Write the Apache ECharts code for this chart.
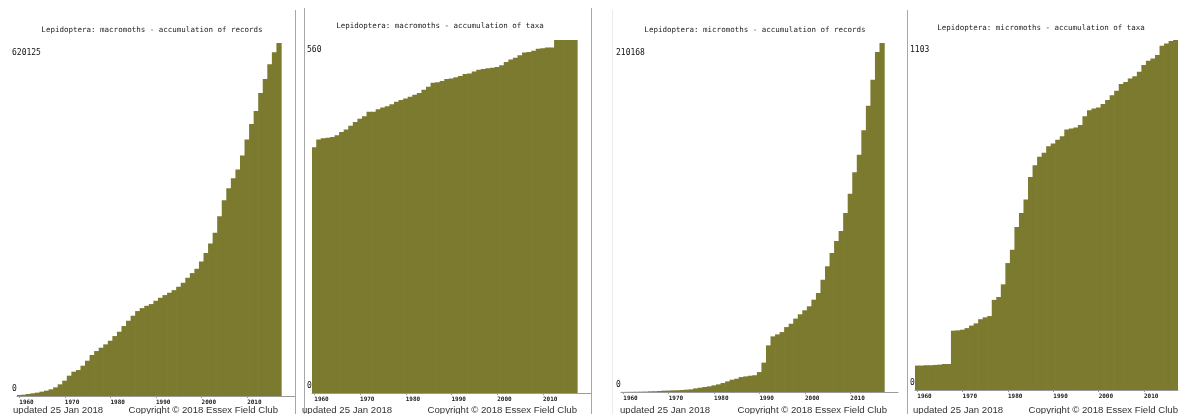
<!DOCTYPE html>
<html>
<head>
<meta charset="utf-8">
<script src="https://cdn.jsdelivr.net/npm/echarts@6/dist/echarts.min.js"></script>
<style>
  html, body { margin: 0; padding: 0; background: #ffffff; }
  #chart { width: 1179px; height: 414px; }
</style>
</head>
<body>
<div id="chart"></div>
<script>
// Year categories on each x axis (axis runs a little past the last recorded year)
const years = ['1960','1961','1962','1963','1964','1965','1966','1967','1968','1969',
  '1970','1971','1972','1973','1974','1975','1976','1977','1978','1979',
  '1980','1981','1982','1983','1984','1985','1986','1987','1988','1989',
  '1990','1991','1992','1993','1994','1995','1996','1997','1998','1999',
  '2000','2001','2002','2003','2004','2005','2006','2007','2008','2009',
  '2010','2011','2012','2013','2014','2015','2016','2017','2018','2019','2020'];
const tickYears = ['1960','1970','1980','1990','2000','2010'];

// Cumulative totals, 1960 to 2017
const macroRecords = [1800,2300,3500,4700,5900,7600,9400,11700,15200,20500,
  26900,35700,42700,45600,53200,62000,72000,79000,84800,90700,
  97100,105300,112900,122900,132200,141000,149200,154400,158500,161500,
  167300,172600,177300,181400,186000,191900,198900,207700,215900,223500,
  236300,251000,267900,286700,315900,344000,365100,382600,397800,422400,
  450500,478000,500800,532400,556900,582700,603700,620125];

const macroTaxa = [390,402,404,405,406,409,414,418,424,430,
  435,439,446,446,450,453,455,458,462,465,
  467,470,473,476,481,486,492,493,495,498,
  499,501,503,506,507,510,513,514,515,516,
  517,520,525,529,532,536,540,541,543,546,
  547,548,548,560,560,560,560,560];

const microRecords = [50,80,120,150,200,250,400,450,600,800,
  850,1000,1050,1200,1400,1600,2200,2600,3000,3400,
  4000,4600,5400,6400,7400,8000,9000,9400,9800,10100,
  12000,17700,28100,33500,34700,36100,39100,41100,44200,46800,
  49200,51600,55600,59600,67600,75700,83700,90900,97000,107800,
  119400,132300,142900,157600,172400,188100,204700,210168];

const microTaxa = [77,77,78,78,79,80,82,82,187,188,
  190,195,203,210,223,229,233,284,293,333,
  400,442,514,558,600,671,708,735,748,768,
  777,789,800,821,824,827,835,863,882,887,
  890,901,914,929,943,964,971,982,989,1003,
  1024,1038,1045,1056,1085,1092,1100,1103];

const titles = [
  'Lepidoptera: macromoths - accumulation of records',
  'Lepidoptera: macromoths - accumulation of taxa',
  'Lepidoptera: micromoths - accumulation of records',
  'Lepidoptera: micromoths - accumulation of taxa'
];
const seriesData = [macroRecords, macroTaxa, microRecords, microTaxa];
const updatedText = 'updated 25 Jan 2018';
const copyrightText = 'Copyright \u00a9 2018 Essex Field Club';

// Panel geometry (pixels); yearCount = categories shown on that panel's axis
const panels = [
  { left: 17,  top: 43, width: 278, height: 353, yearCount: 61, titleX: 152,  titleY: 30, footL: 13,  footR: 278 },
  { left: 312, top: 40, width: 279, height: 353, yearCount: 61, titleX: 440,  titleY: 26, footL: 302, footR: 577 },
  { left: 621, top: 43, width: 277, height: 349, yearCount: 61, titleX: 755,  titleY: 30, footL: 620, footR: 887 },
  { left: 915, top: 40, width: 263, height: 350, yearCount: 58, titleX: 1041, titleY: 28, footL: 913, footR: 1178 }
];

const OLIVE = '#7b7a2f';
const MONO = '"DejaVu Sans Mono", "Liberation Mono", monospace';
const SANS = '"Liberation Sans", Arial, sans-serif';

const showTick = (idx, val) => tickYears.indexOf(val) !== -1;

const option = {
  animation: false,
  backgroundColor: '#ffffff',
  grid: panels.map(p => ({ left: p.left, top: p.top, width: p.width, height: p.height, containLabel: false })),
  xAxis: panels.map((p, i) => ({
    type: 'category',
    gridIndex: i,
    data: years.slice(0, p.yearCount),
    boundaryGap: true,
    axisLine: { show: true, lineStyle: { color: '#9a9a9a', width: 1 } },
    axisTick: { show: true, length: 2, interval: showTick, alignWithLabel: true, lineStyle: { color: '#9a9a9a' } },
    axisLabel: {
      interval: showTick, align: 'left', margin: 3,
      fontFamily: MONO, fontSize: 6, fontWeight: 'bold', color: '#222'
    },
    splitLine: { show: false }
  })),
  yAxis: seriesData.map((d, i) => {
    const top = d[d.length - 1];
    return {
      type: 'value',
      gridIndex: i,
      min: 0,
      max: top,
      interval: top,
      axisLine: { show: false },
      axisTick: { show: false },
      splitLine: { show: false },
      axisLabel: {
        margin: 5, align: 'left',
        verticalAlignMinLabel: 'bottom', verticalAlignMaxLabel: 'top',
        fontFamily: MONO, fontSize: 8, color: '#111',
        formatter: v => v === 0 ? '{lo|0}' : '{hi|' + v + '}',
        rich: {
          lo: { fontFamily: MONO, fontSize: 8, color: '#111', padding: [0, 0, 3, 0] },
          hi: { fontFamily: MONO, fontSize: 8, color: '#111', padding: [6, 0, 0, 0] }
        }
      }
    };
  }),
  series: seriesData.map((d, i) => ({
    type: 'bar',
    xAxisIndex: i,
    yAxisIndex: i,
    data: d,
    // bars slightly wider than their band so neighbours overlap with no seam
    barWidth: '115%',
    barGap: '0%',
    itemStyle: { color: OLIVE },
    emphasis: { disabled: true }
  })),
  graphic: [
    // panel frames
    { type: 'line', silent: true, shape: { x1: 295.5, y1: 10, x2: 295.5, y2: 414 }, style: { stroke: '#a8a8a8', lineWidth: 1 } },
    { type: 'line', silent: true, shape: { x1: 304.5, y1: 8, x2: 304.5, y2: 414 }, style: { stroke: '#a8a8a8', lineWidth: 1 } },
    { type: 'line', silent: true, shape: { x1: 591.5, y1: 8, x2: 591.5, y2: 414 }, style: { stroke: '#a8a8a8', lineWidth: 1 } },
    { type: 'line', silent: true, shape: { x1: 612.5, y1: 10, x2: 612.5, y2: 414 }, style: { stroke: '#ececec', lineWidth: 1 } },
    { type: 'line', silent: true, shape: { x1: 907.5, y1: 10, x2: 907.5, y2: 414 }, style: { stroke: '#a8a8a8', lineWidth: 1 } }
  ].concat(panels.flatMap((p, i) => [
    { type: 'text', silent: true, x: p.titleX, y: p.titleY,
      style: { text: titles[i], textAlign: 'center', textVerticalAlign: 'middle',
               font: '7.5px ' + MONO, fill: '#1a1a1a' } },
    { type: 'text', silent: true, x: p.footL, y: 410,
      style: { text: updatedText, textAlign: 'left', textVerticalAlign: 'middle',
               font: '9.6px ' + SANS, fill: '#333' } },
    { type: 'text', silent: true, x: p.footR, y: 410,
      style: { text: copyrightText, textAlign: 'right', textVerticalAlign: 'middle',
               font: '9.6px ' + SANS, fill: '#333' } }
  ]))
};

const chart = echarts.init(document.getElementById('chart'), null, { renderer: 'canvas' });
chart.setOption(option);
</script>
</body>
</html>
